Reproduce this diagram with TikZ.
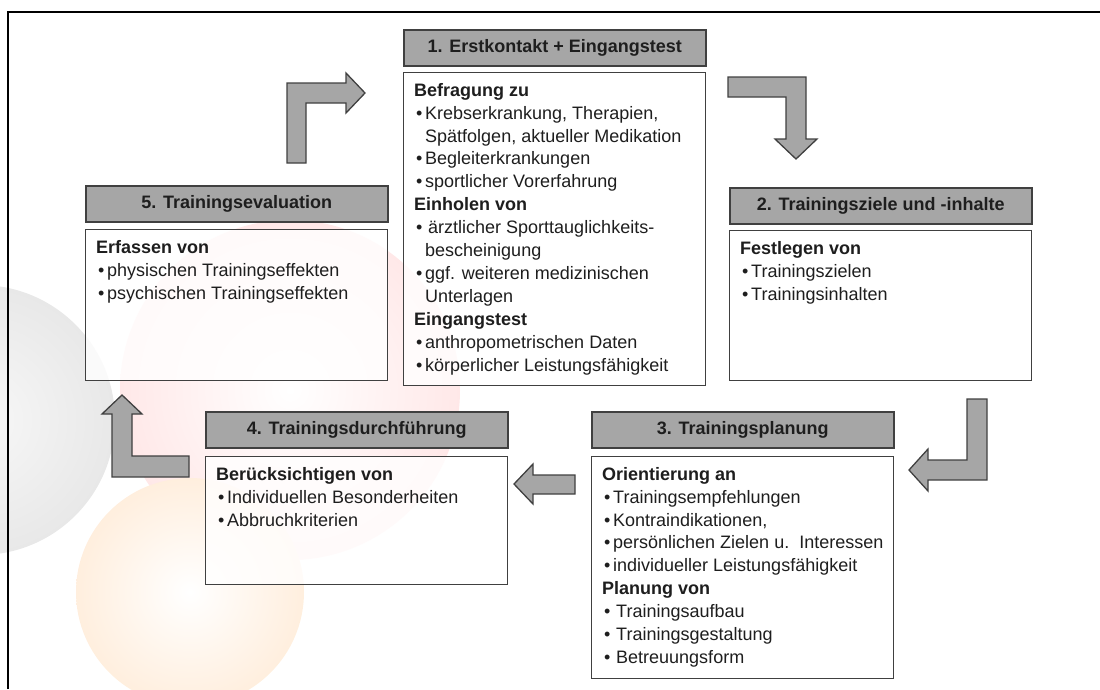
\documentclass[tikz,border=0pt]{standalone}
\usepackage{fontspec}
\setmainfont{Liberation Sans}
\usetikzlibrary{positioning}

\definecolor{headgray}{RGB}{166,166,166}
\definecolor{linegray}{RGB}{64,64,64}
\definecolor{inkgray}{RGB}{30,30,30}

% text size and bullets with hanging indent
\newcommand{\stepfont}{\fontsize{18}{22.9}\selectfont}
\newcommand{\bul}{\hspace*{2pt}\makebox[9pt][l]{•}}
\newcommand{\bulwide}{\hspace*{2pt}\makebox[12pt][l]{•}}
\newcommand{\hang}{\hspace*{11pt}}

\tikzset{
  headbox/.style={draw=linegray, line width=1.5pt, fill=headgray,
    minimum width=302pt, minimum height=36pt, anchor=north west,
    inner sep=0pt, font=\stepfont\bfseries, text=inkgray},
  bodybox/.style={draw=linegray, line width=1.2pt, fill=white,
    fill opacity=0.8, minimum width=302pt, anchor=north west, inner sep=0pt},
  bodytext/.style={align=left, inner sep=0pt, font=\stepfont, text=inkgray},
  blockarrow/.style={draw=linegray, line width=1.3pt, fill=headgray},
}

\begin{document}
\begin{tikzpicture}[x=1pt, y=-1pt]
\useasboundingbox (0,0) rectangle (1100,689);

% faint background balls
\shade[inner color=black!3, outer color=black!9] (-20,420) circle[radius=135pt];
\shade[inner color=white, outer color=red!9] (290,390) circle[radius=170pt];
\shade[inner color=white, outer color=orange!13] (190,592) circle[radius=114pt];

% frame
\draw[line width=2pt] (8,689) -- (8,12) -- (1100,12);

% headers
\path (403,29) node[headbox] (h1) {1. Erstkontakt + Eingangstest};
\path (729,187) node[headbox] (h2) {2. Trainingsziele und -inhalte};
\path (591,411) node[headbox] (h3) {3. Trainingsplanung};
\path (205,411) node[headbox] (h4) {4. Trainingsdurchführung};
\path (85,185) node[headbox] (h5) {5. Trainingsevaluation};

% bodies
\path (403,72) node[bodybox, minimum height=313pt] (b1) {};
\path (729,230) node[bodybox, minimum height=150pt] (b2) {};
\path (591,456) node[bodybox, minimum height=222pt] (b3) {};
\path (205,456) node[bodybox, minimum height=128pt] (b4) {};
\path (85,229) node[bodybox, minimum height=151pt] (b5) {};

\node[bodytext, below right=11pt and 11pt of b1.north west] (t1) {%
\textbf{Befragung zu}\\
\bul Krebserkrankung, Therapien,\\
\hang Spätfolgen, aktueller Medikation\\
\bul Begleiterkrankungen\\
\bul sportlicher Vorerfahrung\\
\textbf{Einholen von}\\
\bul\hspace*{3pt}ärztlicher Sporttauglichkeits-\\
\hang bescheinigung\\
\bul ggf. weiteren medizinischen\\
\hang Unterlagen\\
\textbf{Eingangstest}\\
\bul anthropometrischen Daten\\
\bul körperlicher Leistungsfähigkeit};

\node[bodytext, below right=11pt and 11pt of b2.north west] (t2) {%
\textbf{Festlegen von}\\
\bul Trainingszielen\\
\bul Trainingsinhalten};

\node[bodytext, below right=11pt and 11pt of b3.north west] (t3) {%
\textbf{Orientierung an}\\
\bul Trainingsempfehlungen\\
\bul Kontraindikationen,\\
\bul persönlichen Zielen u.\ \ Interessen\\
\bul individueller Leistungsfähigkeit\\
\textbf{Planung von}\\
\bulwide Trainingsaufbau\\
\bulwide Trainingsgestaltung\\
\bulwide Betreuungsform};

\node[bodytext, below right=11pt and 11pt of b4.north west] (t4) {%
\textbf{Berücksichtigen von}\\
\bul Individuellen Besonderheiten\\
\bul Abbruchkriterien};

\node[bodytext, below right=11pt and 11pt of b5.north west] (t5) {%
\textbf{Erfassen von}\\
\bul physischen Trainingseffekten\\
\bul psychischen Trainingseffekten};

% block arrows between the steps
\draw[blockarrow] (287,163) -- (287,83) -- (346,83) -- (346,73) -- (365,93)
  -- (346,113) -- (346,103) -- (306,103) -- (306,163) -- cycle;
\draw[blockarrow] (728,77) -- (806,77) -- (806,139) -- (817,139) -- (796,159)
  -- (775,139) -- (786,139) -- (786,97) -- (728,97) -- cycle;
\draw[blockarrow] (967,399) -- (987,399) -- (987,480) -- (928,480) -- (928,491)
  -- (909,470) -- (928,449) -- (928,460) -- (967,460) -- cycle;
\draw[blockarrow] (575,475) -- (575,494) -- (533,494) -- (533,504) -- (514,484)
  -- (533,464) -- (533,475) -- cycle;
\draw[blockarrow] (189,456) -- (189,477) -- (112,477) -- (112,414) -- (102,414)
  -- (122,395) -- (142,414) -- (132,414) -- (132,456) -- cycle;
\end{tikzpicture}
\end{document}
